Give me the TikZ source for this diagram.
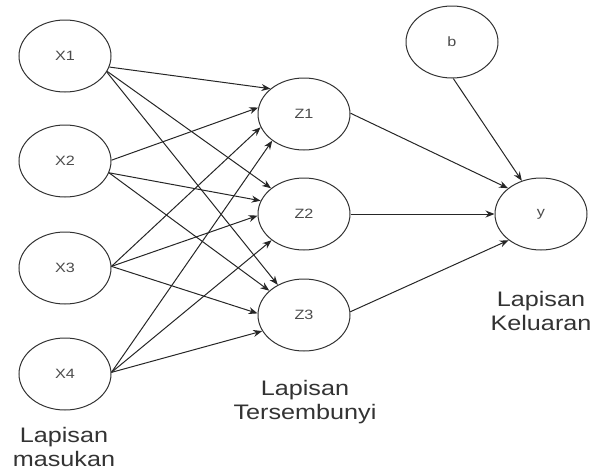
\documentclass[tikz,border=0pt]{standalone}
\usepackage{fontspec}
\setmainfont{Liberation Sans}[FakeStretch=1.2]
\usetikzlibrary{shapes.geometric,arrows.meta}

\begin{document}
\begin{tikzpicture}[x=1pt,y=-1pt,
  unit/.style={ellipse, draw=black!80, line width=1pt,
    minimum width=92pt, minimum height=72pt, inner sep=0pt,
    font=\fontsize{13.5}{15}\selectfont, text=black!70},
  link/.style={draw=black!85, line width=1pt,
    -{Stealth[length=9pt,width=7pt]}},
  layer/.style={align=center, font=\fontsize{21}{24}\selectfont,
    text=black!80}]
\useasboundingbox (0,0) rectangle (592,474);

% input layer
\node[unit] (x1) at (65,56)  {X1};
\node[unit] (x2) at (65,161) {X2};
\node[unit] (x3) at (65,268) {X3};
\node[unit] (x4) at (65,374) {X4};

% hidden layer
\node[unit] (z1) at (304,114) {Z1};
\node[unit] (z2) at (304,214) {Z2};
\node[unit] (z3) at (304,315) {Z3};

% bias and output
\node[unit] (b) at (452,42)  {b};
\node[unit] (y) at (541,214) {y};

% layer captions
\node[layer] (capin)  at (64,447)  {Lapisan\\masukan};
\node[layer] (caphid) at (305,402) {Lapisan\\Tersembunyi};
\node[layer] (capout) at (541,311) {Lapisan\\Keluaran};

% input -> hidden
\draw[link] (x1.-14) -- (z1.143);
\draw[link] (x1.-20) -- (z2.142);
\draw[link] (x1.-21) -- (z3.131);
\draw[link] (x2.1)   -- (z1.172);
\draw[link] (x2.-15) -- (z2.163);
\draw[link] (x2.-15) -- (z3.145);
\draw[link] (x3.2)   -- (z1.197);
\draw[link] (x3.2)   -- (z2.182);
\draw[link] (x3.2)   -- (z3.178);
\draw[link] (x4.2)   -- (z1.220);
\draw[link] (x4.2)   -- (z2.219);
\draw[link] (x4.2)   -- (z3.201);

% hidden -> output
\draw[link] (z1.1) -- (y.142);
\draw[link] (z2.0) -- (y.180);
\draw[link] (z3.4) -- (y.219);
\draw[link] (b.272) -- (y.120);
\end{tikzpicture}
\end{document}
